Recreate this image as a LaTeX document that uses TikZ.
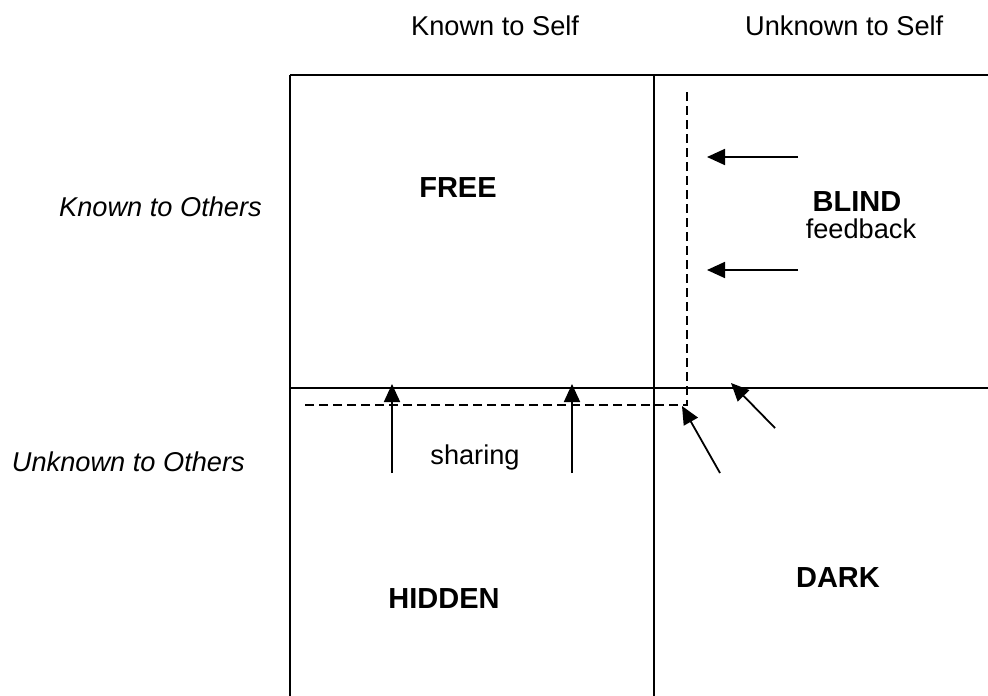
\documentclass[tikz,border=0pt]{standalone}
\usepackage{fontspec}
\setmainfont{Liberation Sans}
\usetikzlibrary{arrows.meta}
\tikzset{
  gridline/.style={line width=2.4pt},
  dashline/.style={line width=1.7pt, dash pattern=on 9pt off 5pt},
  arr/.style={line width=1.8pt, -{Triangle[length=18pt,width=16pt]}},
  lbl/.style={inner sep=0pt, font=\fontsize{27.2}{31}\selectfont},
  ilbl/.style={inner sep=0pt, font=\fontsize{27.2}{31}\selectfont\itshape},
  blbl/.style={inner sep=0pt, font=\fontsize{29}{33}\selectfont\bfseries}
}
\begin{document}
\begin{tikzpicture}[x=1pt,y=-1pt]
\useasboundingbox (0,0) rectangle (988,696);
% grid
\coordinate (tl) at (290,75);
\coordinate (tm) at (654,75);
\coordinate (tr) at (988,75);
\coordinate (ml) at (290,388);
\coordinate (mr) at (988,388);
\coordinate (bl) at (290,696);
\coordinate (bm) at (654,696);
\draw[gridline] (tl) -- (tr);
\draw[gridline] (ml) -- (mr);
\draw[gridline] (tl) -- (bl);
\draw[gridline] (tm) -- (bm);
% dashed boundary
\coordinate (dtop) at (687,92);
\coordinate (dcorner) at (687,405);
\coordinate (dleft) at (302,405);
\draw[dashline] (dtop) -- (dcorner) -- (dleft);
% feedback arrows
\coordinate (f1s) at (798,157); \coordinate (f1e) at (707,157);
\coordinate (f2s) at (798,270); \coordinate (f2e) at (707,270);
\draw[arr] (f1s) -- (f1e);
\draw[arr] (f2s) -- (f2e);
% sharing arrows
\coordinate (s1s) at (392,473); \coordinate (s1e) at (392,384);
\coordinate (s2s) at (572,473); \coordinate (s2e) at (572,384);
\draw[arr] (s1s) -- (s1e);
\draw[arr] (s2s) -- (s2e);
% diagonal arrows
\coordinate (d1s) at (720,473); \coordinate (d1e) at (682,406);
\coordinate (d2s) at (775,428); \coordinate (d2e) at (731,383);
\draw[arr] (d1s) -- (d1e);
\draw[arr] (d2s) -- (d2e);
% labels
\node[lbl, anchor=west] (kself) at (411,26) {Known to Self};
\node[lbl, anchor=west] (uself) at (745,26) {Unknown to Self};
\node[ilbl, anchor=east] (kothers) at (262,207) {Known to Others};
\node[ilbl, anchor=east] (uothers) at (245,462) {Unknown to Others};
\node[blbl] (free) at (458,188) {FREE};
\node[blbl] (blind) at (857,202) {BLIND};
\node[lbl] (feedback) at (861,229) {feedback};
\node[lbl] (sharing) at (475,457) {sharing};
\node[blbl] (hidden) at (444,599) {HIDDEN};
\node[blbl] (dark) at (838,578) {DARK};
\end{tikzpicture}
\end{document}
